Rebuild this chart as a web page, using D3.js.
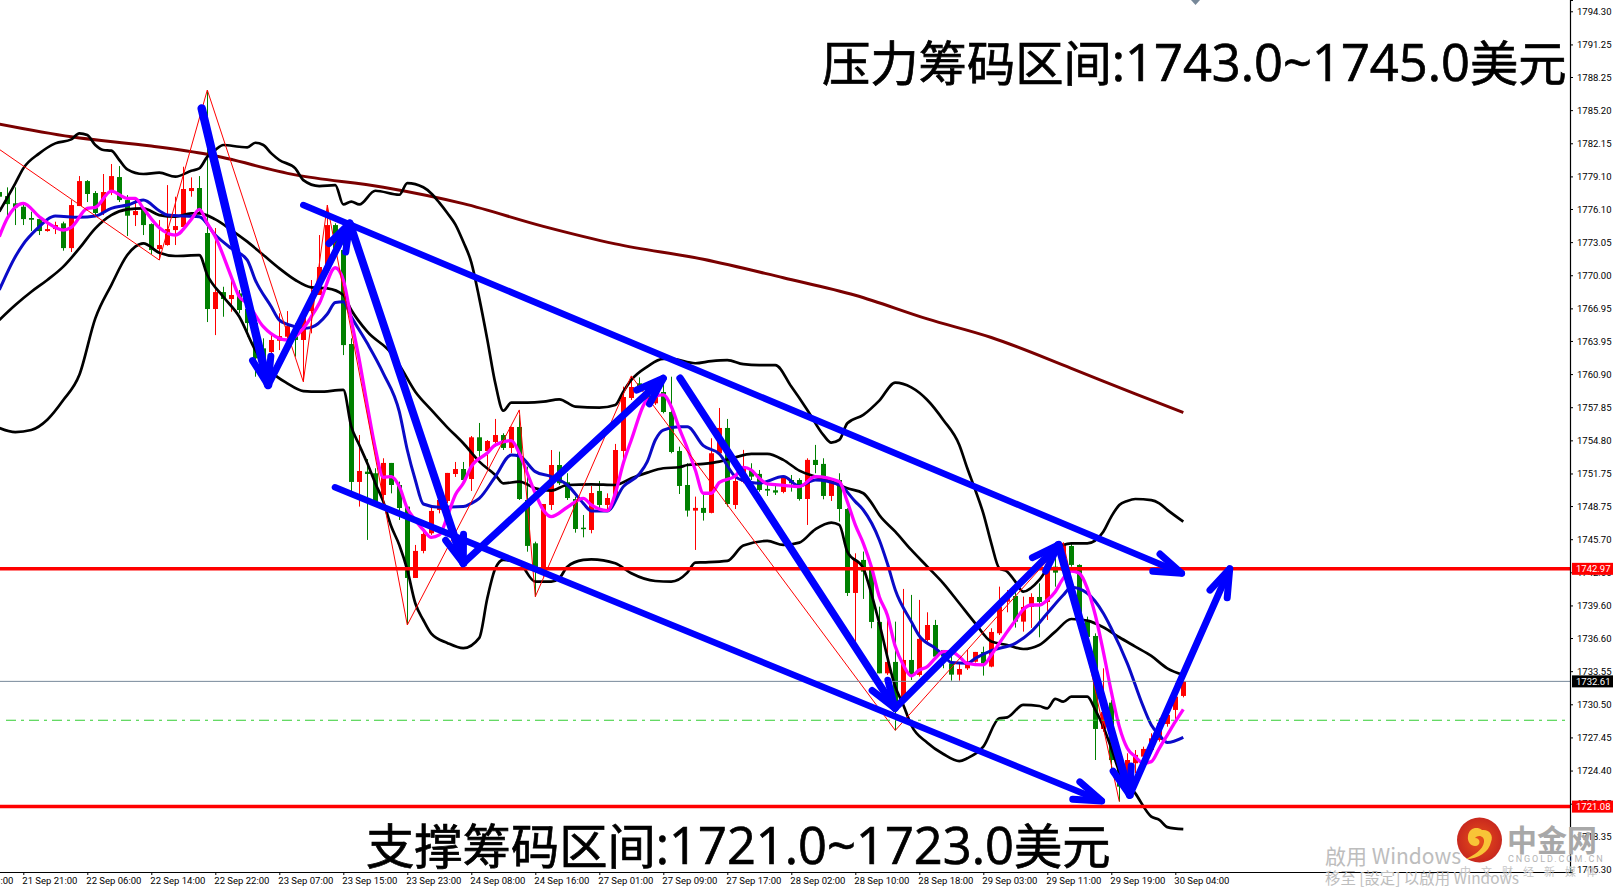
<!DOCTYPE html>
<html>
<head>
<meta charset="utf-8">
<script src="https://cdn.jsdelivr.net/npm/d3@7"></script>
<style>
  html, body { margin: 0; padding: 0; background: #fff; overflow: hidden; }
  svg { display: block; }
  .tick text { fill: #000; }
</style>
</head>
<body>
<div id="chart"></div>
<script>
// bars start at index -3, the tick labels sit on every 8th bar
var firstBar = -3;
var open = [1777.66,1777.29,1776.62,1776.31,1775.27,1775.17,1774.07,1774.25,1774.78,1772.50,1776.37,1778.67,1777.57,1775.82,1777.66,1779.04,1776.92,1775.54,1776.10,1774.71,1772.41,1772.78,1774.16,1774.44,1777.75,1778.03,1773.89,1766.89,1768.45,1767.81,1768.33,1766.89,1765.60,1763.27,1762.93,1763.97,1764.34,1764.96,1764.04,1766.70,1768.18,1770.48,1774.62,1772.32,1763.67,1750.97,1751.92,1751.77,1749.77,1752.72,1750.69,1748.70,1742.13,1744.62,1746.24,1748.39,1749.22,1751.70,1752.16,1751.24,1755.08,1753.82,1754.65,1755.29,1754.10,1756.03,1749.31,1745.32,1742.87,1748.85,1752.53,1750.94,1749.40,1746.76,1746.55,1750.14,1748.85,1749.40,1753.82,1758.70,1760.05,1759.74,1758.21,1759.25,1757.41,1753.82,1750.69,1748.33,1748.58,1748.12,1753.61,1755.94,1748.85,1751.00,1752.07,1751.71,1750.33,1750.20,1750.05,1751.15,1751.15,1749.40,1753.00,1752.63,1749.68,1751.15,1748.48,1740.75,1743.79,1742.87,1738.08,1733.35,1734.40,1730.90,1734.58,1733.20,1736.42,1737.80,1735.50,1734.27,1733.23,1733.81,1734.42,1735.32,1733.97,1737.04,1739.95,1740.47,1738.11,1739.46,1740.38,1739.92,1743.17,1742.80,1745.07,1743.33,1738.11,1736.79,1728.23,1730.65,1725.37,1723.84,1725.07,1725.68,1726.30,1727.21,1728.69,1729.98,1731.27];
var high = [1778.00,1778.09,1778.09,1776.62,1775.85,1775.17,1774.93,1774.93,1774.93,1776.92,1779.13,1778.76,1777.75,1779.32,1780.24,1780.05,1777.38,1776.92,1776.31,1774.78,1775.08,1778.30,1777.23,1779.99,1779.01,1779.13,1787.05,1774.35,1768.94,1770.02,1768.64,1767.10,1765.88,1764.19,1764.65,1766.49,1766.70,1765.57,1766.49,1769.56,1773.70,1776.46,1774.78,1773.85,1764.19,1755.29,1753.08,1752.23,1753.15,1752.72,1751.00,1748.70,1745.17,1746.55,1748.70,1749.62,1751.80,1752.81,1752.81,1755.20,1756.40,1754.83,1756.77,1755.45,1756.06,1757.14,1752.38,1745.47,1748.94,1753.91,1753.76,1751.77,1749.62,1747.93,1750.60,1751.06,1749.92,1754.47,1759.74,1760.73,1760.60,1759.90,1759.44,1760.66,1760.66,1754.22,1752.69,1749.62,1749.77,1754.99,1757.78,1756.77,1751.46,1753.92,1752.69,1752.07,1751.15,1750.85,1751.46,1751.61,1751.31,1753.15,1754.38,1753.15,1751.31,1751.77,1748.55,1744.40,1744.56,1743.18,1739.49,1738.57,1738.11,1741.12,1740.57,1740.11,1738.97,1738.27,1735.50,1735.19,1734.27,1735.50,1735.32,1735.81,1737.50,1741.33,1741.02,1741.95,1740.41,1740.72,1741.64,1743.33,1744.71,1745.38,1745.32,1743.39,1738.57,1737.03,1733.81,1730.90,1725.68,1725.99,1726.29,1726.60,1727.83,1729.21,1729.98,1732.43,1733.05];
var low = [1776.50,1775.39,1774.62,1774.62,1774.07,1773.70,1774.01,1773.79,1772.26,1772.14,1776.37,1776.74,1775.54,1775.54,1777.38,1776.74,1773.61,1774.53,1773.70,1771.95,1771.40,1772.72,1772.78,1774.16,1777.23,1775.70,1765.69,1764.49,1766.18,1766.64,1766.49,1764.34,1760.66,1761.58,1761.89,1763.11,1764.04,1762.50,1760.20,1764.65,1768.18,1770.48,1772.17,1762.65,1750.08,1748.70,1745.63,1748.85,1748.85,1749.92,1747.47,1737.80,1742.13,1744.40,1746.09,1748.08,1749.00,1751.43,1751.00,1750.14,1753.15,1752.38,1754.22,1753.91,1753.63,1749.31,1744.55,1740.41,1742.25,1748.39,1750.69,1749.31,1746.30,1745.87,1746.24,1748.54,1748.39,1749.31,1752.99,1758.52,1759.44,1758.06,1758.06,1757.29,1753.61,1749.86,1747.78,1744.71,1747.41,1748.08,1753.61,1748.70,1748.48,1750.85,1751.15,1750.08,1749.68,1749.77,1749.93,1750.08,1749.25,1747.01,1751.77,1749.37,1749.22,1747.32,1740.47,1736.12,1740.20,1737.50,1733.35,1733.20,1728.10,1730.13,1732.74,1733.05,1736.27,1734.58,1733.82,1732.68,1732.68,1733.66,1734.34,1733.14,1733.91,1736.88,1738.97,1737.56,1737.19,1737.53,1736.67,1738.26,1741.33,1741.95,1743.17,1737.65,1736.42,1725.37,1727.98,1724.39,1721.54,1723.69,1724.15,1725.07,1725.99,1727.06,1728.44,1729.06,1731.14];
var close = [1777.23,1776.55,1776.25,1775.17,1775.11,1774.07,1774.25,1774.62,1772.50,1776.46,1778.67,1777.48,1775.73,1777.66,1779.13,1776.92,1775.48,1775.91,1774.62,1772.32,1772.78,1774.25,1774.53,1777.94,1778.03,1776.00,1766.89,1768.45,1767.81,1768.18,1766.80,1765.60,1762.35,1761.89,1764.04,1764.40,1765.32,1764.04,1766.24,1767.72,1770.76,1774.62,1772.32,1763.57,1750.97,1751.98,1751.70,1749.00,1752.72,1750.69,1748.57,1742.13,1744.62,1746.18,1748.30,1749.31,1751.80,1752.16,1751.15,1755.08,1753.82,1754.74,1755.29,1754.10,1756.03,1749.40,1745.08,1742.87,1748.94,1752.53,1750.85,1749.49,1746.64,1746.64,1749.95,1748.85,1749.49,1753.91,1758.79,1759.71,1759.59,1758.21,1759.13,1757.41,1753.73,1750.60,1748.33,1748.58,1748.12,1753.61,1755.94,1748.94,1751.06,1752.38,1751.46,1750.23,1750.17,1749.99,1751.34,1750.85,1749.40,1753.00,1752.53,1749.68,1751.06,1748.48,1740.75,1743.79,1742.71,1738.08,1733.35,1734.40,1730.29,1734.58,1733.20,1736.52,1737.80,1734.89,1734.89,1733.23,1733.75,1734.42,1735.32,1734.27,1737.16,1739.49,1740.56,1738.11,1739.46,1740.38,1739.92,1742.87,1742.62,1745.26,1743.33,1738.11,1736.70,1728.23,1729.79,1725.37,1722.92,1725.37,1725.84,1726.39,1727.37,1728.75,1729.52,1731.20,1732.61];

// indicator lines, [bar index, price]
var maLong = [[-3,1783.92],[6,1782.75],[16,1781.89],[23,1781.13],[34,1779.24],[45,1778.10],[55,1776.59],[65,1774.50],[74,1772.89],[85,1771.47],[95,1769.77],[104,1768.16],[113,1765.98],[121,1764.27],[131,1761.43],[139,1759.07],[145,1757.36]];
var bbUpper = [[-3,1775.85],[-1,1778.46],[0,1779.84],[2,1781.22],[4,1782.14],[6,1782.51],[7,1783.06],[8,1782.91],[9,1781.99],[10,1781.53],[11,1781.47],[12,1780.61],[13,1779.75],[15,1779.32],[17,1779.44],[19,1779.07],[21,1779.62],[22,1779.84],[23,1780.91],[24,1781.53],[25,1781.99],[27,1781.83],[28,1781.77],[29,1782.20],[30,1781.99],[31,1781.22],[32,1780.61],[34,1779.84],[35,1778.76],[37,1778.21],[39,1778.30],[40,1776.52],[41,1776.77],[42,1776.52],[44,1777.78],[47,1777.41],[48,1778.48],[50,1778.10],[51,1777.53],[52,1776.68],[53,1775.73],[54,1774.69],[55,1773.08],[56,1771.19],[57,1767.87],[58,1764.09],[59,1760.05],[60,1757.53],[61,1758.27],[63,1758.27],[65,1758.36],[67,1758.58],[69,1757.90],[72,1757.81],[74,1758.06],[75,1759.28],[76,1760.36],[78,1761.59],[80,1762.30],[81,1762.30],[84,1761.90],[86,1762.10],[88,1762.19],[90,1761.81],[92,1761.72],[94,1761.72],[96,1759.75],[98,1757.60],[100,1755.30],[101,1754.59],[102,1754.84],[103,1756.37],[105,1757.14],[107,1758.46],[109,1760.11],[111,1759.68],[113,1758.52],[115,1756.68],[117,1754.38],[118,1752.23],[119,1750.23],[120,1748.08],[121,1745.32],[122,1743.02],[123,1742.71],[124,1741.79],[125,1740.87],[127,1741.95],[129,1744.25],[130,1745.17],[131,1745.32],[133,1745.32],[135,1746.39],[136,1747.78],[137,1748.85],[138,1749.22],[139,1749.40],[141,1749.30],[142,1749.00],[143,1748.40],[145,1747.32]];
var bbMiddle = [[-3,1765.88],[-1,1767.26],[1,1768.48],[3,1769.56],[5,1770.79],[7,1772.47],[9,1774.32],[11,1775.54],[13,1776.06],[15,1776.16],[17,1775.54],[19,1775.39],[21,1775.70],[22,1775.70],[24,1775.14],[26,1774.16],[28,1773.09],[30,1771.86],[32,1770.63],[34,1769.56],[36,1768.88],[38,1768.79],[40,1768.18],[41,1766.80],[43,1764.80],[46,1762.81],[47,1761.74],[49,1759.28],[51,1757.60],[53,1756.00],[55,1754.53],[57,1752.84],[59,1751.61],[60,1750.84],[62,1751.00],[64,1750.38],[66,1750.17],[68,1750.69],[71,1750.75],[74,1750.69],[76,1751.31],[78,1751.83],[80,1752.23],[82,1752.32],[83,1752.53],[85,1752.63],[87,1752.84],[89,1753.24],[91,1753.55],[93,1753.55],[95,1753.00],[97,1752.01],[99,1751.46],[101,1751.00],[103,1750.39],[105,1749.93],[106,1749.07],[107,1747.93],[109,1746.40],[111,1744.71],[113,1743.18],[115,1741.64],[117,1739.80],[119,1737.95],[121,1736.27],[123,1735.96],[125,1735.59],[127,1735.96],[129,1737.19],[131,1738.35],[133,1738.20],[135,1737.59],[137,1736.67],[139,1735.81],[141,1734.95],[143,1733.81],[145,1733.20]];
var bbLower = [[-3,1755.94],[-1,1755.56],[1,1755.75],[3,1756.70],[5,1758.51],[7,1760.81],[9,1766.03],[11,1769.10],[13,1771.86],[14,1772.63],[15,1772.93],[17,1772.07],[19,1771.77],[22,1771.86],[23,1770.02],[25,1768.02],[27,1766.18],[29,1763.11],[31,1761.12],[33,1760.05],[35,1759.34],[37,1759.28],[40,1759.44],[41,1756.06],[42,1754.37],[43,1752.69],[44,1750.85],[45,1749.16],[46,1746.86],[47,1745.17],[48,1742.87],[49,1739.80],[50,1738.26],[51,1737.00],[53,1736.15],[55,1735.67],[57,1736.62],[58,1740.26],[59,1743.00],[60,1743.79],[62,1743.48],[64,1741.79],[66,1741.79],[67,1742.10],[68,1743.17],[70,1743.79],[71,1743.85],[74,1743.48],[76,1742.56],[79,1741.85],[81,1741.79],[83,1742.62],[84,1743.54],[85,1743.57],[88,1743.70],[90,1745.11],[93,1745.54],[95,1745.17],[97,1745.38],[99,1746.61],[101,1747.23],[102,1747.01],[103,1744.56],[105,1743.02],[106,1740.72],[107,1737.96],[109,1732.13],[110,1730.44],[111,1728.57],[113,1726.96],[115,1725.92],[117,1725.26],[118,1725.53],[120,1726.60],[122,1729.21],[123,1729.30],[125,1730.44],[127,1730.34],[128,1730.13],[129,1730.99],[130,1730.74],[131,1731.20],[133,1731.20],[134,1729.98],[135,1728.44],[136,1726.45],[137,1724.30],[139,1722.30],[141,1720.16],[142,1719.86],[143,1719.19],[145,1719.00]];
var maFast = [[-3,1773.55],[-2,1775.24],[0,1776.62],[2,1775.39],[3,1774.84],[5,1774.16],[6,1774.41],[8,1776.16],[9,1776.25],[11,1777.75],[13,1777.08],[14,1777.08],[15,1776.16],[17,1774.38],[19,1773.70],[21,1775.14],[22,1776.06],[23,1774.78],[24,1773.55],[26,1769.86],[27,1768.02],[28,1767.41],[30,1765.26],[32,1764.19],[33,1764.04],[35,1765.11],[36,1766.18],[37,1767.41],[39,1770.69],[40,1769.56],[41,1765.88],[42,1762.19],[43,1758.00],[44,1754.07],[45,1751.40],[46,1751.46],[47,1750.54],[48,1748.54],[49,1747.47],[50,1746.55],[51,1745.87],[52,1746.09],[53,1747.78],[54,1749.77],[55,1750.85],[56,1752.38],[58,1753.63],[59,1754.37],[61,1754.77],[62,1753.61],[63,1751.77],[64,1749.92],[65,1748.39],[66,1747.78],[68,1748.64],[70,1749.46],[71,1748.85],[73,1748.33],[74,1749.92],[75,1752.69],[76,1754.83],[78,1758.52],[80,1758.98],[81,1757.90],[82,1755.91],[83,1754.07],[84,1752.07],[85,1749.93],[86,1749.93],[87,1750.91],[89,1751.52],[90,1752.32],[91,1752.07],[92,1751.31],[93,1750.79],[95,1750.66],[97,1750.54],[99,1751.46],[102,1751.00],[103,1749.16],[104,1747.01],[105,1745.32],[106,1743.18],[107,1740.41],[108,1738.72],[109,1735.81],[110,1734.12],[111,1733.11],[112,1733.66],[113,1733.97],[114,1734.74],[115,1735.35],[116,1735.35],[117,1734.89],[118,1734.27],[120,1734.12],[121,1735.04],[122,1736.12],[123,1737.19],[124,1738.20],[125,1739.24],[126,1739.64],[127,1739.64],[128,1740.10],[129,1740.87],[130,1742.10],[131,1742.77],[132,1742.56],[133,1741.18],[134,1738.72],[135,1735.35],[136,1731.66],[137,1728.44],[138,1726.45],[139,1725.68],[140,1725.07],[141,1725.22],[142,1726.45],[143,1727.67],[144,1728.90],[145,1730.04]];
var maMid = [[-3,1768.64],[-1,1771.71],[0,1772.87],[2,1774.47],[3,1775.14],[4,1775.45],[7,1775.33],[9,1775.45],[11,1776.16],[13,1776.46],[15,1776.92],[17,1775.94],[18,1775.54],[22,1775.39],[24,1773.70],[26,1772.47],[28,1771.40],[29,1769.56],[31,1767.10],[32,1765.88],[34,1765.26],[35,1765.11],[36,1765.20],[38,1766.43],[39,1767.50],[40,1767.56],[41,1766.18],[43,1763.73],[45,1760.97],[47,1757.44],[48,1753.91],[49,1751.15],[50,1748.94],[52,1748.64],[55,1748.70],[56,1749.00],[57,1749.46],[59,1751.46],[61,1753.45],[62,1753.36],[64,1751.92],[66,1751.46],[68,1750.69],[70,1749.00],[71,1748.30],[73,1748.30],[75,1750.54],[77,1751.70],[78,1752.84],[79,1754.83],[80,1755.75],[82,1756.06],[83,1756.06],[85,1754.31],[87,1753.55],[89,1751.46],[91,1750.91],[92,1750.85],[95,1751.46],[97,1750.60],[99,1751.15],[102,1750.69],[104,1749.16],[105,1748.39],[107,1745.63],[108,1743.48],[109,1741.03],[111,1738.11],[112,1736.79],[114,1735.66],[115,1735.04],[116,1734.34],[118,1734.27],[119,1734.73],[121,1735.44],[124,1736.11],[126,1737.19],[128,1738.88],[130,1740.56],[131,1741.27],[133,1740.72],[135,1738.88],[136,1737.49],[138,1734.27],[140,1730.28],[141,1728.60],[142,1727.67],[143,1726.99],[145,1727.46]];
var zigzag = [[-3,1781.59],[17,1771.40],[23,1787.05],[35,1760.20],[38,1776.46],[48,1737.80],[62,1757.60],[64,1740.41],[76,1760.73],[109,1728.10],[130,1745.38],[137,1721.54]];

// drawn trend arrows, [from bar, from price, to bar, to price, width]
var trendArrows = [
  [35,1776.46,144.8,1742.56,6.5],
  [38.96,1750.48,134.8,1721.60,6.5],
  [22.3,1785.36,30.6,1759.89,8.5],
  [30.6,1759.89,40.8,1774.78,7],
  [40.8,1774.78,55,1743.48,8],
  [55,1743.48,80,1760.51,7],
  [82.1,1760.51,108.96,1730.13,7.5],
  [108.96,1730.13,129.4,1745.17,7],
  [129.4,1745.17,138.3,1722.15,8],
  [138.3,1722.15,150.8,1742.97,7]
];

var priceTicks = [1794.30,1791.25,1788.25,1785.20,1782.15,1779.10,1776.10,1773.05,1770.00,1766.95,1763.95,1760.90,1757.85,1754.80,1751.75,1748.75,1745.70,1742.65,1739.60,1736.60,1733.55,1730.50,1727.45,1724.40,1721.35,1718.35,1715.30];
var timeLabels = ["21 Sep 13:00","21 Sep 21:00","22 Sep 06:00","22 Sep 14:00","22 Sep 22:00","23 Sep 07:00","23 Sep 15:00","23 Sep 23:00","24 Sep 08:00","24 Sep 16:00","27 Sep 01:00","27 Sep 09:00","27 Sep 17:00","28 Sep 02:00","28 Sep 10:00","28 Sep 18:00","29 Sep 03:00","29 Sep 11:00","29 Sep 19:00","30 Sep 04:00"];
var supportLine = 1721.08, pressureLine = 1742.97, bidLine = 1732.61, dashLine = 1729.03;
var pressureText = "压力筹码区间:1743.0~1745.0美元";
var supportText = "支撑筹码区间:1721.0~1723.0美元";

var width = 1613, height = 890,
    plotRight = 1570, plotBottom = 872;

// set the ranges
var x = d3.scaleLinear().domain([0, 8]).range([23.3, 87.3]);
var y = d3.scaleLinear().domain([1715.06, 1795.34]).range([plotBottom, 0]);

var svg = d3.select("#chart").append("svg")
    .attr("width", width)
    .attr("height", height)
    .style("font-family", "'Noto Sans CJK SC', sans-serif");

svg.append("defs").append("clipPath").attr("id", "plot")
    .append("rect").attr("width", plotRight).attr("height", plotBottom);

var plot = svg.append("g").attr("clip-path", "url(#plot)");

// candles, red goes up and green goes down
var bars = d3.range(open.length).map(function (i) {
    return {k: firstBar + i, o: open[i], h: high[i], l: low[i], c: close[i]};
});
function barColor(d) { return d.c >= d.o ? "#ff0000" : "#008000"; }

plot.selectAll(".wick").data(bars).enter().append("line")
    .attr("class", "wick")
    .attr("x1", function (d) { return x(d.k) + 0.2; })
    .attr("x2", function (d) { return x(d.k) + 0.2; })
    .attr("y1", function (d) { return y(d.h); })
    .attr("y2", function (d) { return y(d.l); })
    .attr("stroke", barColor);

plot.selectAll(".body").data(bars).enter().append("rect")
    .attr("class", "body")
    .attr("x", function (d) { return x(d.k) - 2.3; })
    .attr("width", 5)
    .attr("y", function (d) { return y(Math.max(d.o, d.c)); })
    .attr("height", function (d) { return Math.max(1.5, Math.abs(y(d.o) - y(d.c))); })
    .attr("fill", barColor);

var lineGen = d3.line()
    .x(function (d) { return x(d[0]); })
    .y(function (d) { return y(d[1]); })
    .curve(d3.curveMonotoneX);

function addLine(data, color, w) {
    plot.append("path").datum(data)
        .attr("d", lineGen)
        .attr("fill", "none")
        .attr("stroke", color)
        .attr("stroke-width", w)
        .attr("stroke-linejoin", "round");
}
addLine(maLong, "#7a0000", 3);
addLine(bbUpper, "#000", 2.7);
addLine(bbMiddle, "#000", 2.7);
addLine(bbLower, "#000", 2.7);
addLine(maMid, "#0a0ac8", 3);
addLine(maFast, "#ff00ff", 3.3);

// zigzag is straight between its pivots
plot.append("path").datum(zigzag)
    .attr("d", d3.line().x(function (d) { return x(d[0]); }).y(function (d) { return y(d[1]); }))
    .attr("fill", "none")
    .attr("stroke", "#ff0000")
    .attr("stroke-width", 1);

// horizontal levels
plot.append("line").attr("x1", 0).attr("x2", plotRight)
    .attr("y1", y(bidLine)).attr("y2", y(bidLine))
    .attr("stroke", "#778899").attr("stroke-width", 1);
plot.append("line").attr("x1", 6).attr("x2", plotRight)
    .attr("y1", y(dashLine)).attr("y2", y(dashLine))
    .attr("stroke", "#32cd32").attr("stroke-width", 1)
    .attr("stroke-dasharray", "10,5,3,5");
[pressureLine, supportLine].forEach(function (v) {
    plot.append("line").attr("x1", 0).attr("x2", plotRight)
        .attr("y1", y(v)).attr("y2", y(v))
        .attr("stroke", "#ff0000").attr("stroke-width", 3.5);
});

// trend arrows with two narrow barbs at the tip
var arrows = plot.append("g").attr("stroke", "#0000ff").attr("stroke-linecap", "round").attr("fill", "none");
trendArrows.forEach(function (a) {
    var x1 = x(a[0]), y1 = y(a[1]), x2 = x(a[2]), y2 = y(a[3]);
    var ang = Math.atan2(y2 - y1, x2 - x1), len = 29, spread = 0.33;
    arrows.append("path")
        .attr("stroke-width", a[4])
        .attr("d", "M" + x1 + "," + y1 + "L" + x2 + "," + y2);
    arrows.append("path")
        .attr("stroke-width", 7)
        .attr("stroke-linejoin", "round")
        .attr("d", "M" + (x2 - len * Math.cos(ang - spread)) + "," + (y2 - len * Math.sin(ang - spread)) +
            "L" + x2 + "," + y2 +
            "L" + (x2 - len * Math.cos(ang + spread)) + "," + (y2 - len * Math.sin(ang + spread)));
});

// price axis on the right
var yAxis = svg.append("g")
    .attr("transform", "translate(" + plotRight + ",0)")
    .call(d3.axisRight(y).tickValues(priceTicks).tickSize(3).tickPadding(4).tickFormat(d3.format(".2f")));
yAxis.selectAll("text").style("font-family", "Roboto, sans-serif").style("font-size", "9.5px");
yAxis.select(".domain").attr("stroke-width", 1.2);

// time axis at the bottom, labels start at the tick
var xAxis = svg.append("g")
    .attr("transform", "translate(0," + plotBottom + ")")
    .call(d3.axisBottom(x)
        .tickValues(timeLabels.map(function (d, i) { return (i - 1) * 8; }))
        .tickSize(3)
        .tickFormat(function (d, i) { return timeLabels[i]; }));
xAxis.select(".domain").attr("d", "M0,0.5H" + plotRight).attr("stroke-width", 1.2);
xAxis.selectAll("text")
    .attr("text-anchor", "start")
    .attr("x", -1.5)
    .attr("y", 5)
    .style("font-family", "Roboto, sans-serif")
    .style("font-size", "9.5px");

// price tags on the axis
[[pressureLine, "#ff0000"], [bidLine, "#000"], [supportLine, "#ff0000"]].forEach(function (t) {
    svg.append("rect").attr("x", plotRight + 2).attr("y", y(t[0]) - 6)
        .attr("width", 41).attr("height", 12).attr("fill", t[1]);
    svg.append("text").attr("x", plotRight + 6).attr("y", y(t[0]) + 3.5)
        .attr("fill", "#fff")
        .style("font-family", "Roboto, sans-serif").style("font-size", "9.5px")
        .text(d3.format(".2f")(t[0]));
});

// big captions, the digits are set a little larger than the hanzi
function caption(str, px, py) {
    var t = svg.append("text").attr("x", px).attr("y", py)
        .attr("fill", "#000").attr("stroke", "#000").attr("stroke-width", 0.7);
    str.match(/[:0-9.~]+|[^:0-9.~]+/g).forEach(function (run) {
        var latin = /^[:0-9.~]/.test(run);
        t.append("tspan")
            .style("font-family", latin ? "'Open Sans', sans-serif" : "'Noto Sans CJK SC', sans-serif")
            .style("font-size", latin ? "50.6px" : "48.3px")
            .text(run);
    });
}
caption(pressureText, 822, 81);
caption(supportText, 366, 864);

// small mark at the top edge
svg.append("path").attr("d", "M1191,0L1200,0L1195.5,5Z").attr("fill", "#778899");

// windows watermark
svg.append("text").attr("x", 1325).attr("y", 864).attr("fill", "#bdbdbd")
    .style("font-size", "21px").text("啟用 Windows");
svg.append("text").attr("x", 1325).attr("y", 884).attr("fill", "#bdbdbd")
    .style("font-size", "15.4px").text("移至 [設定] 以啟用 Windows");

// site logo
var grad = svg.select("defs").append("radialGradient").attr("id", "sun");
grad.append("stop").attr("offset", "0%").attr("stop-color", "#e8501a");
grad.append("stop").attr("offset", "100%").attr("stop-color", "#c8281e");
svg.append("circle").attr("cx", 1479.5).attr("cy", 840).attr("r", 22.5).attr("fill", "url(#sun)");
svg.append("path")
    .attr("d", "M1468,836C1469,828 1477,826 1482,830C1489,829 1494,835 1491,842C1489,852 1478,859 1466,859C1474,855 1483,850 1484,842C1485,836 1478,834 1475,838C1481,838 1481,846 1475,846C1471,846 1467,842 1468,836Z")
    .attr("fill", "#f8c437");
svg.append("text").attr("x", 1507).attr("y", 851).attr("fill", "#a8a8a8")
    .style("font-size", "30px").style("font-weight", "700").text("中金网");
svg.append("text").attr("x", 1508).attr("y", 862).attr("fill", "#b4b4b4")
    .style("font-family", "Roboto, sans-serif").style("font-size", "9px")
    .style("letter-spacing", "1.9px").text("CNGOLD.COM.CN");
svg.append("text").attr("x", 1460).attr("y", 876).attr("fill", "#c4c4c4")
    .style("font-size", "11px").style("letter-spacing", "10px").text("中文财经新媒体");
</script>
</body>
</html>
